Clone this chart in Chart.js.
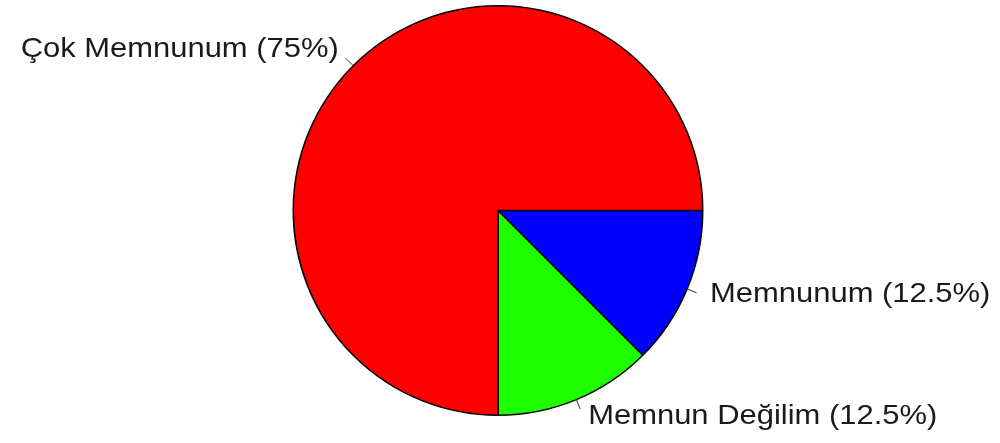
<!DOCTYPE html>
<html>
<head>
<meta charset="utf-8">
<script src="https://cdn.jsdelivr.net/npm/chart.js@4"></script>
<style>
html,body{margin:0;padding:0;background:#fff;}
#wrap{width:1000px;height:443px;}
</style>
</head>
<body>
<div id="wrap"><canvas id="grafico"></canvas></div>
<script>
// dati, in senso orario partendo dalle ore 3
const etichette = ["Memnunum", "Memnun Değilim", "Çok Memnunum"];
const valori = [12.5, 12.5, 75];
const colori = ["#0000ff", "#1eff00", "#ff0000"];

// etichette esterne con linea di richiamo (stile pie() di R)
const etichettePlugin = {
	id: "etichetteEsterne",
	afterDatasetsDraw(chart){
		const ctx = chart.ctx;
		const meta = chart.getDatasetMeta(0);
		ctx.save();
		ctx.font = "28px 'Liberation Sans', Arial, sans-serif";
		ctx.fillStyle = "#1a1a1a";
		ctx.strokeStyle = "#333";
		ctx.lineWidth = 1;
		meta.data.forEach((arc, i) => {
			const p = arc.getProps(["x","y","startAngle","endAngle","outerRadius"], true);
			const a = (p.startAngle + p.endAngle) / 2;
			const c = Math.cos(a), s = Math.sin(a);
			const r = p.outerRadius;
			ctx.beginPath();
			ctx.moveTo(p.x + c*r, p.y + s*r);
			ctx.lineTo(p.x + c*r*1.05, p.y + s*r*1.05);
			ctx.stroke();
			const tx = p.x + c*r*1.1;
			const ty = p.y + s*r*1.1 - 2;
			const testo = etichette[i] + " (" + valori[i] + "%)";
			ctx.save();
			ctx.translate(tx + (c < 0 ? 0 : 4), ty);
			ctx.scale(1.105, 1);
			ctx.textAlign = c < 0 ? "right" : "left";
			ctx.textBaseline = "middle";
			ctx.fillText(testo, 0, 0);
			ctx.restore();
		});
		ctx.restore();
	}
};

const ctx = document.getElementById("grafico").getContext("2d");
new Chart(ctx, {
	type: "pie",
	data: {
		labels: etichette,
		datasets: [{
			data: valori,
			backgroundColor: colori,
			borderColor: "#000",
			borderWidth: 1.5,
			hoverOffset: 0
		}]
	},
	options: {
		responsive: true,
		maintainAspectRatio: false,
		animation: false,
		rotation: 90,
		layout: { padding: { top: 5, bottom: 27, left: 0, right: 4 } },
		plugins: {
			legend: { display: false },
			tooltip: { enabled: false }
		}
	},
	plugins: [etichettePlugin]
});
</script>
</body>
</html>
